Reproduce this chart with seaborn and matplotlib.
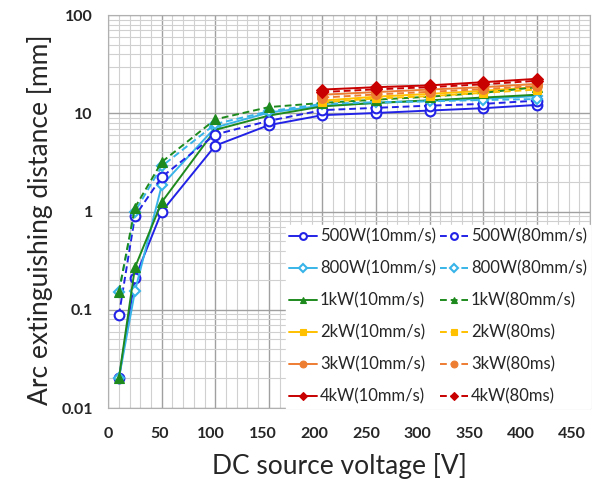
import numpy as np
import pandas as pd
import matplotlib.pyplot as plt
import matplotlib.transforms as mtransforms
import seaborn as sns
from matplotlib.ticker import MultipleLocator, LogLocator, FixedLocator, NullFormatter

plt.switch_backend('Agg')

# voltages (V)
volts = [10, 25, 50, 100, 150, 200, 250, 300, 350, 400]
volts_hi = [200, 250, 300, 350, 400]

# arc extinguishing distance (mm)
w500_10 = [0.02, 0.21, 1.0, 4.7, 7.6, 9.6, 10.1, 10.7, 11.3, 12.2]
w500_80 = [0.088, 0.9, 2.25, 6.1, 8.4, 10.8, 11.4, 12.0, 12.5, 13.5]
w800_10 = [0.02, 0.155, 1.85, 7.2, 10.2, 12.0, 12.8, 13.4, 14.1, 15.0]
w800_80 = [0.152, 1.0, 2.9, 7.8, 10.5, 12.5, 13.0, 13.3, 13.7, 14.0]
kw1_10 = [0.02, 0.27, 1.25, 6.8, 9.5, 11.8, 12.8, 13.6, 14.5, 15.5]
kw1_80 = [0.152, 1.1, 3.2, 8.7, 11.6, 12.8, 13.8, 14.8, 16.2, 18.5]
kw2_10 = [13.5, 14.8, 15.8, 17.0, 18.5]
kw2_80 = [13.0, 14.2, 15.0, 16.2, 17.5]
kw3_10 = [15.5, 16.5, 17.5, 18.5, 20.0]
kw3_80 = [14.5, 15.6, 16.6, 17.7, 19.0]
kw4_10 = [17.5, 18.5, 19.3, 20.8, 22.5]
kw4_80 = [16.5, 17.6, 18.5, 19.8, 21.5]

blue = '#2222E6'
cyan = '#38B4E8'
green = '#1E8A1E'
yellow = '#FFC000'
orange = '#ED7D31'
red = '#C80000'

# label, x, y, color, marker, open marker?, dashed?
series = [
    ('500W(10mm/s)', volts, w500_10, blue, 'o', True, False),
    ('800W(10mm/s)', volts, w800_10, cyan, 'D', True, False),
    ('1kW(10mm/s)', volts, kw1_10, green, '^', False, False),
    ('2kW(10mm/s)', volts_hi, kw2_10, yellow, 's', False, False),
    ('3kW(10mm/s)', volts_hi, kw3_10, orange, 'o', False, False),
    ('4kW(10mm/s)', volts_hi, kw4_10, red, 'D', False, False),
    ('500W(80mm/s)', volts, w500_80, blue, 'o', True, True),
    ('800W(80mm/s)', volts, w800_80, cyan, 'D', True, True),
    ('1kW(80mm/s)', volts, kw1_80, green, '^', False, True),
    ('2kW(80ms)', volts_hi, kw2_80, yellow, 's', False, True),
    ('3kW(80ms)', volts_hi, kw3_80, orange, 'o', False, True),
    ('4kW(80ms)', volts_hi, kw4_80, red, 'D', False, True),
]

sns.set_style('white')
plt.rcParams['font.family'] = ['Lato', 'DejaVu Sans']

fig = plt.figure(figsize=(6.01, 4.91), dpi=100)
ax = fig.add_axes([0.18, 0.169, 0.802, 0.800])

sizes = {'o': 7, 'D': 5.5, '^': 7, 's': 6}
for label, xs, ys, col, mk, hollow, dashed in series:
    df = pd.DataFrame({'V': xs, 'd': ys})
    ms = sizes[mk] if not (mk == 'D' and not hollow) else 6
    sns.lineplot(data=df, x='V', y='d', ax=ax, color=col, label=label,
                 marker=mk, markersize=ms,
                 markerfacecolor='white' if hollow else col,
                 markeredgecolor=col, markeredgewidth=1.5 if hollow else 0.8,
                 linewidth=1.4, linestyle=(0, (3.5, 2)) if dashed else '-')

ax.set_yscale('log')
ax.set_xlim(0, 450)
ax.set_ylim(0.01, 100)
ax.xaxis.set_major_locator(MultipleLocator(50))
ax.xaxis.set_minor_locator(MultipleLocator(10))
ax.yaxis.set_major_locator(FixedLocator([0.01, 0.1, 1, 10, 100]))
ax.yaxis.set_minor_locator(LogLocator(base=10, subs=np.arange(2, 10)))
ax.yaxis.set_minor_formatter(NullFormatter())
ax.set_yticklabels(['0.01', '0.1', '1', '10', '100'])

ax.grid(which='major', color='#A0A0A0', linewidth=1.0)
ax.grid(which='minor', color='#D0D0D0', linewidth=0.8)
ax.set_axisbelow(True)
for s in ax.spines.values():
    s.set_color('#B0B0B0')
    s.set_linewidth(0.8)
ax.tick_params(which='both', length=0, labelsize=11.5)
ax.tick_params(axis='x', pad=14)
ax.tick_params(axis='y', pad=11)
for t in ax.get_xticklabels() + ax.get_yticklabels():
    t.set_fontweight('bold')

# x tick labels in the original drift a bit to the left of their grid lines
for v, t in zip(ax.get_xticks(), ax.get_xticklabels()):
    off = mtransforms.ScaledTranslation(-0.04 * v / 100, 0, fig.dpi_scale_trans)
    t.set_transform(t.get_transform() + off)

ax.set_xlabel('DC source voltage [V]', fontsize=19, labelpad=8, x=0.48)
ax.set_ylabel('Arc extinguishing distance [mm]', fontsize=19, labelpad=6, y=0.48)

leg = ax.legend(ncol=2, loc='lower right', fontsize=12, frameon=True,
                framealpha=1.0, edgecolor='white', fancybox=False,
                handlelength=1.7, handletextpad=0.15, columnspacing=0.25,
                labelspacing=0.95, borderaxespad=0.0, borderpad=0.2,
                markerscale=0.7)

fig.savefig('out.png', dpi=100)
